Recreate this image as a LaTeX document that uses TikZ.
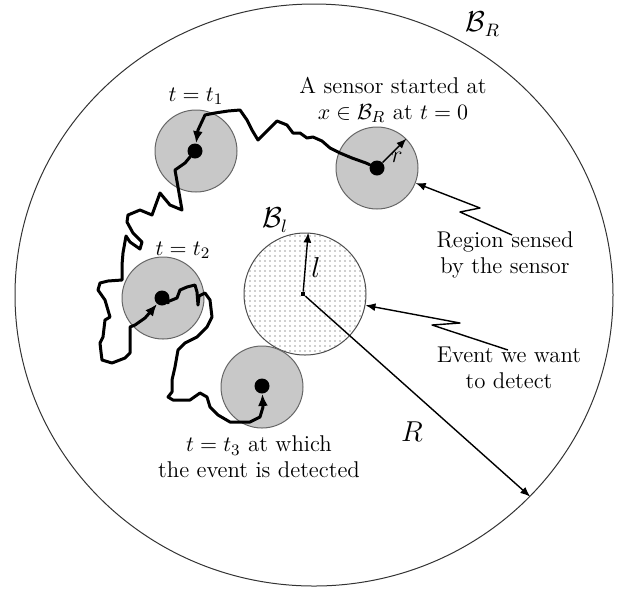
\documentclass[tikz,border=0pt]{standalone}
\usetikzlibrary{arrows.meta,shapes.geometric,patterns.meta}
\definecolor{sensegray}{RGB}{200,200,200}
\begin{document}
\begin{tikzpicture}[x=0.5pt,y=-0.5pt,
  txt/.style={font=\fontsize{11.4}{13}\selectfont, align=center, inner sep=0pt},
  lbl/.style={font=\fontsize{13.5}{15}\selectfont, inner sep=0pt},
  sensor/.style={circle, fill=sensegray, draw=black!60, line width=0.5pt, minimum size=41pt, inner sep=0pt},
  dotnode/.style={circle, fill=black, minimum size=7.5pt, inner sep=0pt},
  walk/.style={line width=1.5pt, line join=round, line cap=round},
  walkarr/.style={walk, -{Latex[length=6pt,width=5pt]}},
  arr/.style={line width=0.7pt, -{Latex[length=5pt,width=4pt]}},
  evt/.style={circle, draw=black!70, line width=0.5pt, minimum size=61pt, inner sep=0pt,
    pattern={Dots[radius=0.35pt,distance=2.5pt]}, pattern color=black!80}
]
\useasboundingbox (0,0) rectangle (621,591);

% big region
\node[ellipse, draw=black!80, line width=0.5pt, minimum width=299pt, minimum height=291pt, inner sep=0pt] (BR) at (314,295) {};
\node[lbl] (BRl) at (483,24) {$\mathcal{B}_R$};

% event region
\node[evt] (E) at (305,294) {};
\node[fill=black, inner sep=1pt] (Ec) at (303,294) {};
\node[lbl] (Bl) at (275,220) {$\mathcal{B}_l$};
\node[lbl] (ll) at (316,267) {$l$};
\draw[arr] (Ec) -- (E.87);

% sensors
\node[sensor] (S0) at (377,168) {};
\node[sensor] (S1) at (196,151) {};
\node[sensor] (S2) at (163,298) {};
\node[sensor] (S3) at (262,387) {};
\node[dotnode] (D0) at (377,168) {};
\node[dotnode] (D1) at (195,151) {};
\node[dotnode] (D2) at (162,298) {};
\node[dotnode] (D3) at (262,386) {};

% r arrow
\draw[arr] (D0) -- (S0.45);
\node[font=\fontsize{12}{14}\selectfont, inner sep=0pt] (rl) at (397,157) {$r$};

% R arrow
\draw[arr] (Ec) -- (BR.-43.6);
\node[lbl] (Rl) at (412,432) {$R$};

% random walk
\draw[walkarr] (D0) -- (366,163) -- (352,158) -- (340,153) -- (330,148) -- (322,141) -- (313,137)
  -- (307,138) -- (300,133) -- (293,133) -- (287,125) -- (277,121) -- (268,130) -- (258,140)
  -- (252,130) -- (247,120) -- (240,110) -- (228,111) -- (215,113) -- (205,115) -- (198,130) -- (D1);
\draw[walkarr] (D1) -- (185,163) -- (175,170) -- (178,187) -- (182,210) -- (170,205)
  -- (160,193) -- (152,215) -- (140,210) -- (128,215) -- (127,222) -- (133,233) -- (142,242)
  -- (140,249) -- (130,242) -- (126,236) -- (123,253) -- (122,265) -- (122,280) -- (108,281) -- (100,283)
  -- (98,290) -- (105,300) -- (110,317) -- (105,320) -- (103,337) -- (100,343) -- (101,352) -- (102,360)
  -- (112,363) -- (125,358) -- (130,353) -- (130,340) -- (130,327) -- (135,325) -- (145,318) -- (152,310) -- (D2);
\draw[walkarr] (D2) -- (167,302) -- (177,298) -- (180,290) -- (187,287) -- (195,285)
  -- (197,292) -- (198,305) -- (199,296) -- (205,293) -- (210,300) -- (212,317) -- (207,327)
  -- (197,337) -- (185,343) -- (178,350) -- (175,367) -- (172,380) -- (172,392) -- (168,397) -- (173,400)
  -- (190,400) -- (200,393) -- (207,397) -- (210,407) -- (218,415) -- (230,422) -- (250,422)
  -- (260,417) -- (263,407) -- (D3);

% labels of times
\node[txt] (t1) at (196,96) {$t=t_1$};
\node[txt] (t2) at (183,250) {$t=t_2$};
\node[txt] (t3) at (259,457) {$t=t_3$ at which\\the event is detected};
\node[txt] (s0t) at (393,100) {A sensor started at\\$x\in\mathcal{B}_R$ at $t=0$};

% region sensed
\node[txt] (regt) at (505,255) {Region sensed\\by the sensor};
\coordinate (rega) at (512,235);
\draw[arr, line join=round] (rega) -- (460,212) -- (480,208) -- (S0);

% event
\node[txt] (evtt) at (509,368) {Event we want\\to detect};
\coordinate (evta) at (508,350);
\draw[arr, line join=round] (evta) -- (432,325) -- (460,323) -- (E);
\end{tikzpicture}
\end{document}
